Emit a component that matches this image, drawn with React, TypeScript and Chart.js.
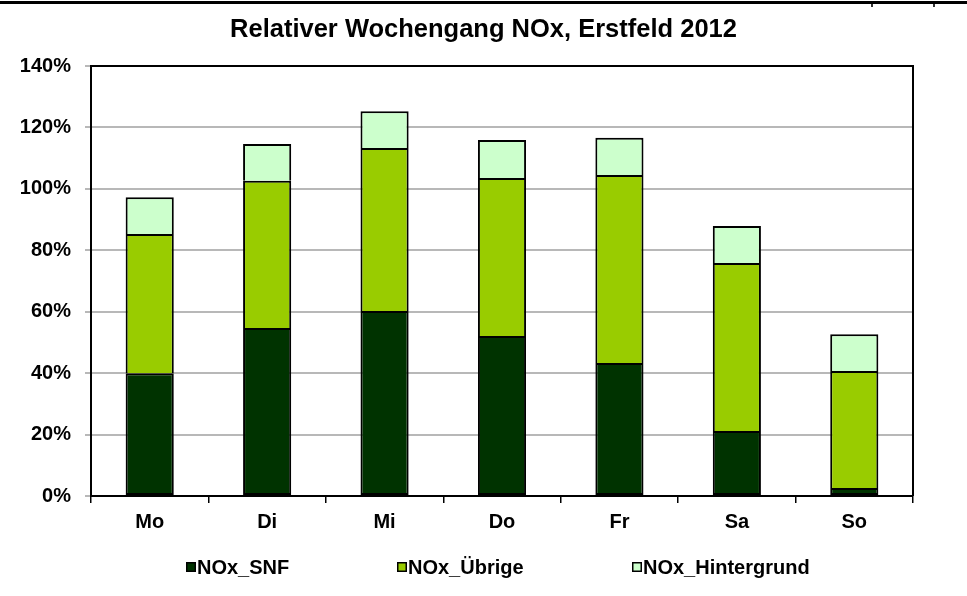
import React, { useEffect, useRef } from "react";
import { Chart, registerables } from "chart.js";

Chart.register(...registerables);

const TITLE = "Relativer Wochengang NOx, Erstfeld 2012";
const categories = ["Mo", "Di", "Mi", "Do", "Fr", "Sa", "So"];
const seriesNames = ["NOx_SNF", "NOx_Übrige", "NOx_Hintergrund"];
const snf = [40.0, 54.7, 60.2, 52.1, 43.3, 21.2, 2.6];
const uebrige = [45.3, 47.9, 53.1, 51.4, 61.2, 54.7, 38.1];
const hintergrund = [12.0, 12.0, 12.0, 12.4, 12.1, 12.0, 12.0];
const yTicks = [0, 20, 40, 60, 80, 100, 120, 140];
const colors = ["#003300", "#99CC00", "#CCFFCC"];

const FONT = "'Liberation Sans', Arial, sans-serif";

const framePlugin = {
  id: "frame",
  afterDraw(chart: any) {
    const { ctx, chartArea } = chart;
    ctx.save();
    // top page rule
    ctx.fillStyle = "#000";
    ctx.fillRect(0, 1, chart.width, 3);
    ctx.fillStyle = "#333";
    ctx.fillRect(871, 4, 2, 3);
    ctx.fillRect(933, 4, 2, 3);
    // title
    ctx.fillStyle = "#000";
    ctx.font = `bold 25.5px ${FONT}`;
    ctx.textAlign = "center";
    ctx.textBaseline = "middle";
    ctx.fillText(TITLE, chart.width / 2, 30);
    // plot frame top + right
    ctx.strokeStyle = "#000";
    ctx.lineWidth = 2;
    ctx.beginPath();
    ctx.moveTo(chartArea.left, chartArea.top);
    ctx.lineTo(chartArea.right, chartArea.top);
    ctx.lineTo(chartArea.right, chartArea.bottom);
    ctx.stroke();
    // legend
    const starts = [186, 397, 632];
    const cy = 567;
    ctx.font = `bold 20px ${FONT}`;
    ctx.textBaseline = "middle";
    ctx.textAlign = "left";
    chart.data.datasets.forEach((ds: any, i: number) => {
      const x = starts[i];
      ctx.fillStyle = "#000";
      ctx.fillRect(x, cy - 5, 10, 10);
      ctx.fillStyle = ds.backgroundColor;
      ctx.fillRect(x + 1.5, cy - 3.5, 7, 7);
      ctx.fillStyle = "#000";
      ctx.fillText(ds.label, x + 11, cy + 1);
    });
    ctx.restore();
  },
};

export default function App() {
  const ref = useRef<HTMLCanvasElement>(null);
  useEffect(() => {
    if (!ref.current) return;
    const values = [snf, uebrige, hintergrund];
    const chart = new Chart(ref.current, {
      type: "bar",
      data: {
        labels: categories,
        datasets: values.map((v, i) => ({
          label: seriesNames[i],
          data: v,
          backgroundColor: colors[i],
          borderColor: "#000",
          borderWidth: 2,
          borderSkipped: i === 0 ? false : "bottom",
          barPercentage: 0.41,
          categoryPercentage: 1,
        })),
      },
      options: {
        responsive: false,
        animation: false,
        layout: { padding: { left: 0, right: 54, top: 66, bottom: 60 } },
        plugins: {
          legend: { display: false },
          tooltip: { enabled: false },
          title: { display: false },
        },
        scales: {
          x: {
            stacked: true,
            afterFit: (s: any) => {
              s.height = 40;
            },
            grid: {
              display: true,
              offset: true,
              drawOnChartArea: false,
              drawTicks: true,
              tickLength: 7,
              color: "#000",
              lineWidth: 1.5,
            },
            border: { display: true, color: "#000", width: 2 },
            ticks: {
              color: "#000",
              font: { family: FONT, size: 20, weight: "bold" },
              padding: 7,
              maxRotation: 0,
            },
          },
          y: {
            stacked: true,
            min: 0,
            max: 140,
            afterFit: (s: any) => {
              s.width = 91;
            },
            afterBuildTicks: (s: any) => {
              s.ticks = yTicks.map((v) => ({ value: v }));
            },
            grid: {
              color: "#b8b8b8",
              lineWidth: 2,
              tickLength: 6,
            },
            border: { display: true, color: "#000", width: 2 },
            ticks: {
              color: "#000",
              font: { family: FONT, size: 20, weight: "bold" },
              padding: 14,
              callback: (v: any) => `${v}%`,
            },
          },
        },
      },
      plugins: [framePlugin],
    });
    return () => chart.destroy();
  }, []);
  return (
    <div style={{ position: "fixed", left: 0, top: 0, width: 967, height: 596, background: "#fff" }}>
      <canvas ref={ref} width={967} height={596} style={{ display: "block" }} />
    </div>
  );
}
